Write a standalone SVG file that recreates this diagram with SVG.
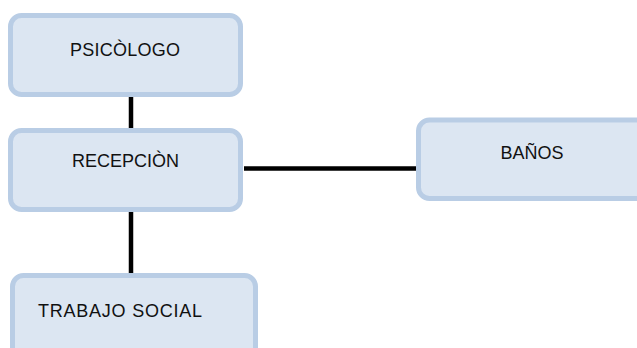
<svg xmlns="http://www.w3.org/2000/svg" width="637" height="348" viewBox="0 0 637 348">
<style>
.box{fill:#dce6f2;stroke:#b9cde5;stroke-width:5}
.lbl{font-family:"Liberation Sans",Arial,sans-serif;font-size:18px;fill:#111}
.conn{stroke:#000;stroke-width:4.5;fill:none}
</style>
<rect width="637" height="348" fill="#fff"/>
<g id="connectors">
<line class="conn" x1="131" y1="97" x2="131" y2="128"/>
<line class="conn" x1="131" y1="212" x2="131" y2="273"/>
<line class="conn" x1="244" y1="168.5" x2="416" y2="168.5"/>
</g>
<g id="psicologo">
<rect class="box" x="10.5" y="15.5" width="230" height="79" rx="11"/>
<text class="lbl" x="125" y="56" text-anchor="middle" textLength="110">PSICÒLOGO</text>
</g>
<g id="recepcion">
<rect class="box" x="10.5" y="130.5" width="230" height="79" rx="11"/>
<text class="lbl" x="125.5" y="167" text-anchor="middle">RECEPCIÒN</text>
</g>
<g id="banos">
<rect class="box" x="418.5" y="120" width="240" height="78.5" rx="11"/>
<text class="lbl" x="532" y="159" text-anchor="middle">BAÑOS</text>
</g>
<g id="trabajo-social">
<rect class="box" x="12.5" y="275.5" width="243" height="100" rx="11"/>
<text class="lbl" x="38" y="317" textLength="164">TRABAJO SOCIAL</text>
</g>
</svg>
